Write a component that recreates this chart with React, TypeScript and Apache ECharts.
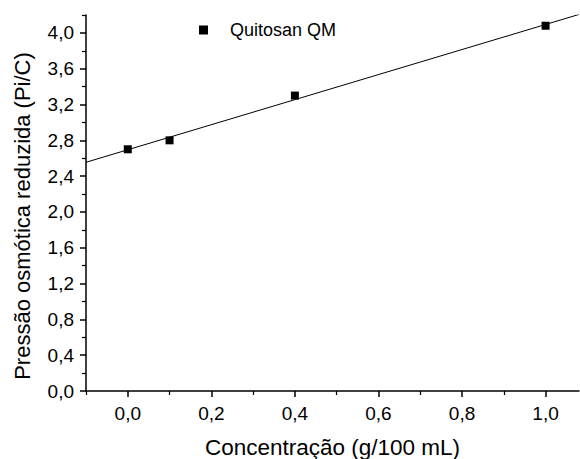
import React, { useEffect, useRef } from "react";
import * as echarts from "echarts";

const seriesName = "Quitosan QM";
const xTitle = "Concentração (g/100 mL)";
const yTitle = "Pressão osmótica reduzida (Pi/C)";
const concentration = [0.0, 0.1, 0.4, 1.0];
const reducedPressure = [2.7, 2.8, 3.3, 4.08];
const fitX = [-0.1, 1.08];
const fitY = [2.555, 4.206];
const xMajorTicks = [0, 0.2, 0.4, 0.6, 0.8, 1.0];
const xMinorTicks = [-0.1, 0.1, 0.3, 0.5, 0.7, 0.9];
const yMajorTicks = [0, 0.4, 0.8, 1.2, 1.6, 2.0, 2.4, 2.8, 3.2, 3.6, 4.0];
const yMinorTicks = [0.2, 0.6, 1.0, 1.4, 1.8, 2.2, 2.6, 3.0, 3.4, 3.8, 4.2];

const FONT = "'Liberation Sans', Arial, sans-serif";
const fmt = (v: number) => v.toFixed(1).replace(".", ",");

export default function App() {
  const ref = useRef<HTMLDivElement>(null);
  useEffect(() => {
    if (!ref.current) return;
    const chart = echarts.init(ref.current, null, { renderer: "svg" });
    const axisLine = { show: true, onZero: false, lineStyle: { color: "#000", width: 1.5 } };
    chart.setOption({
      animation: false,
      backgroundColor: "#fff",
      grid: { left: 86, top: 15, right: 1, bottom: 68, containLabel: false, outerBoundsMode: "none" },
      legend: {
        data: [seriesName],
        left: 194,
        top: 16,
        icon: "rect",
        itemWidth: 9,
        itemHeight: 9,
        itemStyle: { opacity: 1 },
        textStyle: { fontFamily: FONT, fontSize: 18, color: "#000", padding: [0, 0, 0, 17] },
      },
      graphic: [
        {
          type: "text",
          x: 22,
          y: 216,
          rotation: Math.PI / 2,
          style: {
            text: yTitle,
            fontFamily: FONT,
            fontSize: 22,
            fill: "#000",
            align: "center",
            verticalAlign: "middle",
          },
        },
      ],
      xAxis: [
        {
          type: "value",
          min: -0.1,
          max: 1.08,
          axisLine,
          splitLine: { show: false },
          axisTick: { show: true, customValues: xMajorTicks, length: 6, lineStyle: { color: "#000", width: 1.5 } },
          axisLabel: {
            customValues: xMajorTicks,
            formatter: fmt,
            fontFamily: FONT,
            fontSize: 19,
            color: "#000",
            margin: 13,
          },
          name: xTitle,
          nameLocation: "middle",
          nameGap: 45,
          nameTextStyle: { fontFamily: FONT, fontSize: 22.5, color: "#000" },
        },
        {
          type: "value",
          min: -0.1,
          max: 1.08,
          position: "bottom",
          axisLine: { show: false, onZero: false },
          splitLine: { show: false },
          axisTick: { show: true, customValues: xMinorTicks, length: 4, lineStyle: { color: "#000", width: 1.2 } },
          axisLabel: { show: false },
        },
      ],
      yAxis: [
        {
          type: "value",
          min: 0,
          max: 4.2,
          axisLine,
          splitLine: { show: false },
          axisTick: { show: true, customValues: yMajorTicks, length: 6, lineStyle: { color: "#000", width: 1.5 } },
          axisLabel: {
            customValues: yMajorTicks,
            formatter: fmt,
            fontFamily: FONT,
            fontSize: 19,
            color: "#000",
            margin: 12,
          },
        },
        {
          type: "value",
          min: 0,
          max: 4.2,
          position: "left",
          axisLine: { show: false, onZero: false },
          splitLine: { show: false },
          axisTick: { show: true, customValues: yMinorTicks, length: 4, lineStyle: { color: "#000", width: 1.2 } },
          axisLabel: { show: false },
        },
      ],
      series: [
        {
          name: seriesName,
          type: "scatter",
          symbol: "rect",
          symbolSize: 8,
          itemStyle: { color: "#000", opacity: 1 },
          data: concentration.map((x, i) => [x, reducedPressure[i]]),
          z: 3,
        },
        {
          name: "fit",
          type: "line",
          showSymbol: false,
          symbol: "none",
          lineStyle: { color: "#000", width: 1 },
          data: fitX.map((x, i) => [x, fitY[i]]),
          z: 2,
        },
      ],
    });
    return () => chart.dispose();
  }, []);
  return <div ref={ref} style={{ width: 580, height: 459, position: "absolute", left: 0, top: 0 }} />;
}
